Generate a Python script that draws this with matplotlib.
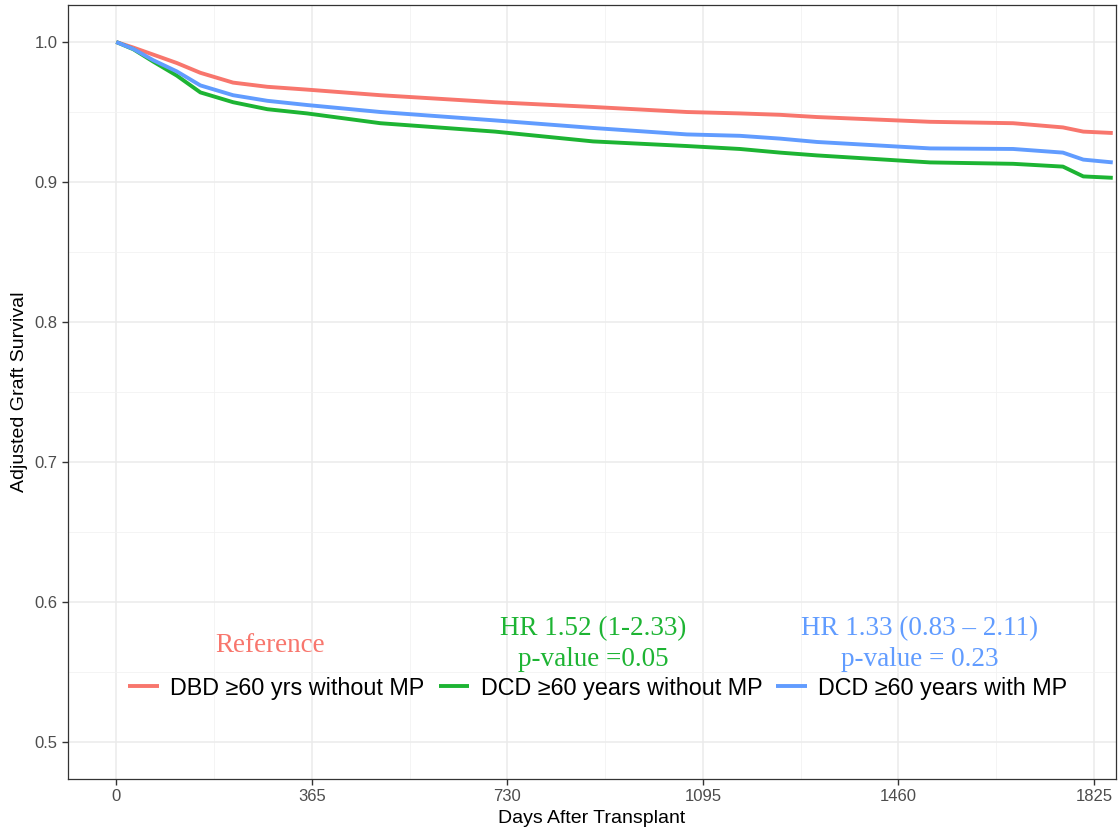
import matplotlib
matplotlib.use("Agg")
import matplotlib.pyplot as plt

# Courbes de survie (jours, survie ajustée)
days = [0, 32, 69, 113, 157, 218, 282, 356, 493, 707, 890, 1065, 1164,
        1239, 1308, 1519, 1674, 1767, 1805, 1860]
dbd_no_mp = [1.0, 0.996, 0.991, 0.985, 0.978, 0.971, 0.968, 0.966, 0.962, 0.957,
             0.9536, 0.950, 0.949, 0.948, 0.9464, 0.943, 0.942, 0.939, 0.936, 0.935]
dcd_no_mp = [1.0, 0.9948, 0.986, 0.976, 0.964, 0.957, 0.952, 0.949, 0.942, 0.936,
             0.929, 0.9257, 0.9236, 0.921, 0.919, 0.914, 0.913, 0.911, 0.904, 0.903]
dcd_mp = [1.0, 0.995, 0.987, 0.979, 0.969, 0.962, 0.958, 0.955, 0.950, 0.944,
          0.9386, 0.934, 0.933, 0.931, 0.9286, 0.924, 0.9236, 0.921, 0.916, 0.914]

labels = ["DBD ≥60 yrs without MP", "DCD ≥60 years without MP", "DCD ≥60 years with MP"]
colors = ["#F8766D", "#1DB433", "#619CFF"]
x_ticks = [0, 365, 730, 1095, 1460, 1825]
y_ticks = [0.5, 0.6, 0.7, 0.8, 0.9, 1.0]

plt.rcParams["font.family"] = ["Liberation Sans", "DejaVu Sans"]

fig = plt.figure(figsize=(11.19, 8.4), dpi=100)
ax = fig.add_axes([0.0608, 0.0726, 0.9365, 0.9214])

for serie, lab, col in zip([dbd_no_mp, dcd_no_mp, dcd_mp], labels, colors):
    ax.plot(days, serie, color=col, lw=2.8, label=lab, solid_capstyle="butt")

ax.set_xlim(-90, 1866)
ax.set_ylim(0.4736, 1.0264)
ax.set_xticks(x_ticks)
ax.set_yticks(y_ticks)
ax.set_yticklabels([f"{v:.1f}" for v in y_ticks])
ax.xaxis.set_minor_locator(plt.FixedLocator([182.5, 547.5, 912.5, 1277.5, 1642.5]))
ax.yaxis.set_minor_locator(plt.FixedLocator([0.55, 0.65, 0.75, 0.85, 0.95]))
ax.grid(which="major", color="#EBEBEB", lw=1.1)
ax.grid(which="minor", color="#F2F2F2", lw=0.6)
ax.set_axisbelow(True)
ax.tick_params(which="major", length=4, width=1, color="#333333",
               labelsize=12, labelcolor="#4D4D4D")
ax.tick_params(which="minor", length=0)
for s in ax.spines.values():
    s.set_color("#333333")
    s.set_linewidth(0.9)

ax.set_xlabel("Days After Transplant", fontsize=14, labelpad=4)
ax.set_ylabel("Adjusted Graft Survival", fontsize=14, labelpad=5)

# légende horizontale à l'intérieur du panneau, en bas
ax.legend(loc="center", bbox_to_anchor=(598 / 1119, 1 - 688 / 840),
          bbox_transform=fig.transFigure, ncol=3, frameon=False,
          fontsize=16.8, handlelength=1.3, columnspacing=0.6, handletextpad=0.5)

# annotations des HR
serif = ["Liberation Serif", "DejaVu Serif"]
ax.text(287, 0.5693, "Reference", color=colors[0], fontsize=19.5,
        family=serif, ha="center", va="center")
ax.text(890, 0.5700, "HR 1.52 (1-2.33)\np-value =0.05", color=colors[1],
        fontsize=19.5, family=serif, ha="center", va="center", linespacing=1.3)
ax.text(1500, 0.5700, "HR 1.33 (0.83 – 2.11)\np-value = 0.23", color=colors[2],
        fontsize=19.5, family=serif, ha="center", va="center", linespacing=1.3)

plt.savefig("out.png", dpi=100)
